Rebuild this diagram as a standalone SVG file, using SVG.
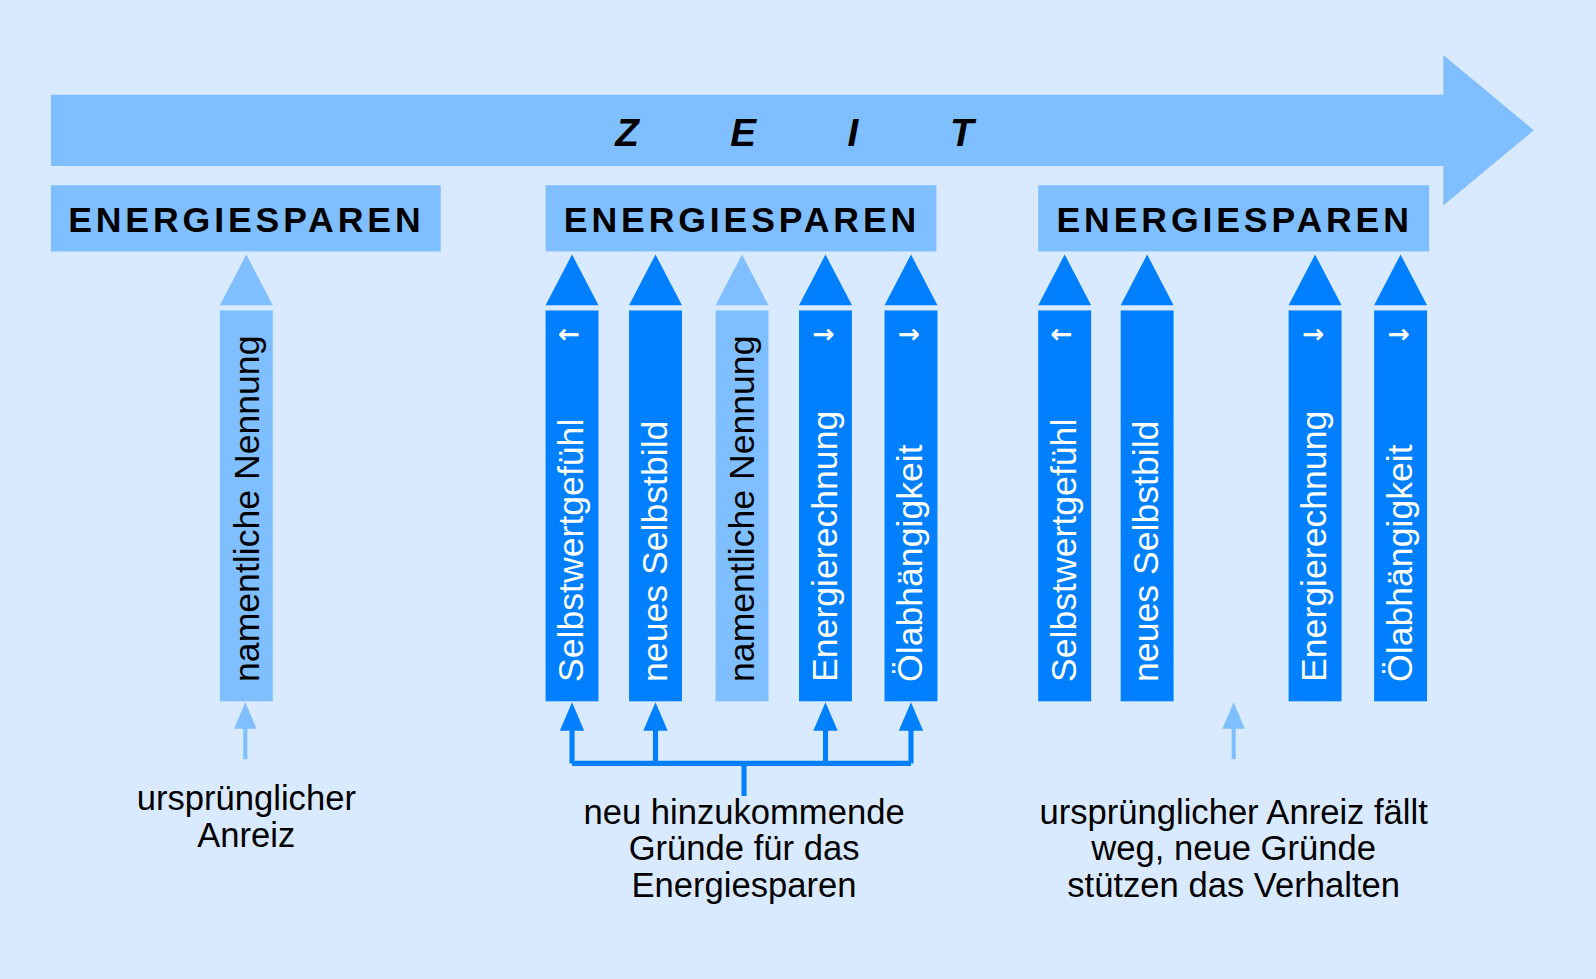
<svg xmlns="http://www.w3.org/2000/svg" width="1596" height="979" viewBox="0 0 1596 979">
<style>
.hd{fill:#80bfff}.dk{fill:#0080ff}.lt{fill:#80bfff}
.ht{font-family:"Liberation Sans",Arial,sans-serif;font-weight:bold;font-size:35px;letter-spacing:3.8px;text-anchor:middle}
.vt{font-family:"Liberation Sans",Arial,sans-serif;font-size:35px}
.w{fill:#fff}.b{fill:#000}
.lb{font-family:"Liberation Sans",Arial,sans-serif;font-size:34px;text-anchor:middle;fill:#000}
.ar{font-family:"DejaVu Sans",sans-serif;font-size:26px;font-weight:bold;fill:#fff;text-anchor:middle}
</style>
<rect width="1596" height="979" fill="#d9eaff"/>
<g transform="scale(1.01786)">
<g id="zeit">
<path class="hd" d="M50 93H1418V54L1507 128L1418 202V163H50Z"/>
<g font-family="Liberation Sans,Arial,sans-serif" font-weight="bold" font-style="italic" font-size="38" text-anchor="middle">
<text x="616" y="143">Z</text><text x="730" y="143">E</text><text x="838" y="143">I</text><text x="945" y="143">T</text></g>
</g>
<g id="h1"><rect class="hd" x="50" y="182" width="383" height="65"/><text class="ht" x="242" y="228">ENERGIESPAREN</text></g>
<g id="h2"><rect class="hd" x="536" y="182" width="384" height="65"/><text class="ht" x="729" y="228">ENERGIESPAREN</text></g>
<g id="h3"><rect class="hd" x="1020" y="182" width="384" height="65"/><text class="ht" x="1213" y="228">ENERGIESPAREN</text></g>
<g id="c1"><path class="lt" d="M216 300L242 250L268 300Z"/><rect class="lt" x="216" y="305" width="52" height="384"/><text class="vt b" transform="translate(254 670) rotate(-90)">namentliche Nennung</text></g>
<g id="c2"><path class="dk" d="M536 300L562 250L588 300Z"/><rect class="dk" x="536" y="305" width="52" height="384"/><text class="ar" x="559" y="337">←</text><text class="vt w" transform="translate(573 670) rotate(-90)">Selbstwertgefühl</text></g>
<g id="c3"><path class="dk" d="M618 300L644 250L670 300Z"/><rect class="dk" x="618" y="305" width="52" height="384"/><text class="vt w" transform="translate(655 670) rotate(-90)">neues Selbstbild</text></g>
<g id="c4"><path class="lt" d="M703 300L729 250L755 300Z"/><rect class="lt" x="703" y="305" width="52" height="384"/><text class="vt b" transform="translate(741 670) rotate(-90)">namentliche Nennung</text></g>
<g id="c5"><path class="dk" d="M785 300L811 250L837 300Z"/><rect class="dk" x="785" y="305" width="52" height="384"/><text class="ar" x="809" y="337">→</text><text class="vt w" transform="translate(822 670) rotate(-90)">Energierechnung</text></g>
<g id="c6"><path class="dk" d="M869 300L895 250L921 300Z"/><rect class="dk" x="869" y="305" width="52" height="384"/><text class="ar" x="893" y="337">→</text><text class="vt w" transform="translate(906 670) rotate(-90)">Ölabhängigkeit</text></g>
<g id="c7"><path class="dk" d="M1020 300L1046 250L1072 300Z"/><rect class="dk" x="1020" y="305" width="52" height="384"/><text class="ar" x="1043" y="337">←</text><text class="vt w" transform="translate(1057 670) rotate(-90)">Selbstwertgefühl</text></g>
<g id="c8"><path class="dk" d="M1101 300L1127 250L1153 300Z"/><rect class="dk" x="1101" y="305" width="52" height="384"/><text class="vt w" transform="translate(1138 670) rotate(-90)">neues Selbstbild</text></g>
<g id="c9"><path class="dk" d="M1266 300L1292 250L1318 300Z"/><rect class="dk" x="1266" y="305" width="52" height="384"/><text class="ar" x="1290" y="337">→</text><text class="vt w" transform="translate(1303 670) rotate(-90)">Energierechnung</text></g>
<g id="c10"><path class="dk" d="M1350 300L1376 250L1402 300Z"/><rect class="dk" x="1350" y="305" width="52" height="384"/><text class="ar" x="1374" y="337">→</text><text class="vt w" transform="translate(1387 670) rotate(-90)">Ölabhängigkeit</text></g>
<g id="connectors">
<path d="M241 746V712M1212 746V712" stroke="#80bfff" stroke-width="4" fill="none"/>
<path class="lt" d="M241 690L230 716H252ZM1212 690L1201 716H1223Z"/>
<path d="M731 782V750M562 750H895M562 750V712M644 750V712M811 750V712M895 750V712" stroke="#0080ff" stroke-width="5" fill="none"/>
<path class="dk" d="M562 690L550 718H574ZM644 690L632 718H656ZM811 690L799 718H823ZM895 690L883 718H907Z"/>
</g>
<g id="labels">
<text class="lb" x="242" y="796">ursprünglicher</text><text class="lb" x="242" y="832">Anreiz</text>
<text class="lb" x="731" y="810">neu hinzukommende</text><text class="lb" x="731" y="845">Gründe für das</text><text class="lb" x="731" y="881">Energiesparen</text>
<text class="lb" x="1212" y="810">ursprünglicher Anreiz fällt</text><text class="lb" x="1212" y="845">weg, neue Gründe</text><text class="lb" x="1212" y="881">stützen das Verhalten</text>
</g>
</g>
</svg>
